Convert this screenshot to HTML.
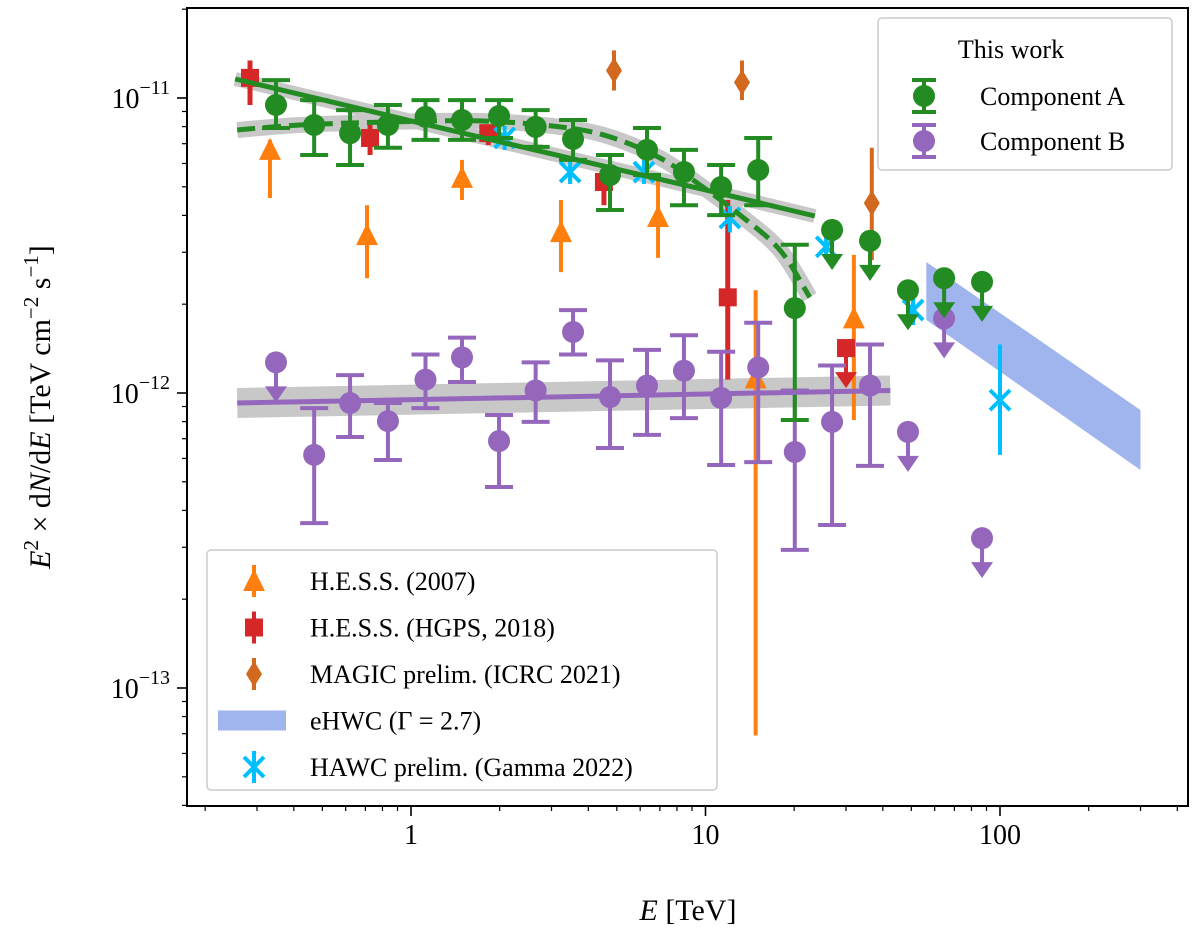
<!DOCTYPE html>
<html><head><meta charset="utf-8"><style>
html,body{margin:0;padding:0;background:#fff;}
svg{display:block;font-family:"Liberation Serif","DejaVu Serif",serif;}
</style></head><body>
<svg id="chart" width="1200" height="931" viewBox="0 0 1200 931" xmlns="http://www.w3.org/2000/svg">
<g id="bands"></g><g id="marks"></g><g id="fits"></g><g id="axes"></g><g id="legends"></g>
</svg>
<script>
// ---- data (E in TeV, flux in 1e-12 TeV cm^-2 s^-1) ----
const aE=[0.348,0.469,0.621,0.835,1.12,1.49,1.99,2.65,3.55,4.74,6.33,8.45,11.3,15.1,20.1];
const aF=[9.47,8.10,7.60,8.10,8.63,8.42,8.69,7.98,7.26,5.48,6.67,5.61,4.99,5.70,1.94];
const aHi=[11.5,9.84,9.10,9.47,9.84,9.84,9.84,9.10,8.42,6.41,7.91,6.67,5.93,7.32,3.18];
const aLo=[7.91,6.41,5.93,6.78,7.21,7.21,7.32,6.83,6.17,4.17,5.48,4.33,4.01,4.33,0.81];
const aUlE=[26.9,36.2,48.7,64.6,86.9];
const aUlF=[3.57,3.28,2.23,2.45,2.38];
const bE=[0.469,0.621,0.835,1.12,1.49,1.99,2.65,3.55,4.74,6.33,8.45,11.3,15.1,20.1,26.9,36.2];
const bF=[0.617,0.925,0.803,1.11,1.32,0.687,1.02,1.61,0.969,1.06,1.19,0.962,1.22,0.631,0.798,1.06];
const bHi=[0.889,1.15,0.925,1.35,1.54,0.842,1.27,1.91,1.29,1.40,1.57,1.38,1.73,1.02,1.24,1.46];
const bLo=[0.362,0.709,0.593,0.889,1.09,0.480,0.798,1.35,0.651,0.721,0.822,0.570,0.583,0.294,0.357,0.566];
const bUlE=[0.348,48.7,64.6,86.9];
const bUlF=[1.27,0.738,1.79,0.322];
const hessE=[0.332,0.709,1.49,3.23,6.90,14.8,31.9];
const hessF=[6.67,3.43,5.36,3.51,3.95,1.12,1.79];
const hessHi=[7.21,4.33,6.17,4.51,5.28,2.23,2.94];
const hessLo=[4.58,2.45,4.51,2.57,2.87,0.069,0.81];
const hgpsE=[0.284,0.726,1.83,4.52,11.9];
const hgpsF=[11.7,7.32,7.60,5.19,2.11];
const hgpsHi=[13.4,8.10,8.10,5.93,4.51];
const hgpsLo=[9.47,6.41,6.93,4.33,1.11];
const hgpsUlE=[30.0];
const hgpsUlF=[1.42];
const magicE=[4.89,13.3,36.7];
const magicF=[12.4,11.3,4.40];
const magicHi=[14.5,13.4,6.78];
const magicLo=[10.6,9.84,2.82];
const hawcE=[2.08,3.47,6.18,12.1,25.7,50.7,100];
const hawcF=[7.32,5.61,5.61,3.92,3.13,1.91,0.946];
const hawcHi=[7.6,6.0,6.0,4.3,3.4,2.1,1.46];
const hawcLo=[7.0,5.2,5.2,3.5,2.9,1.7,0.617];
const ehwcE=[56.2,300];
const ehwcTop=[2.78,0.875];
const ehwcBot=[1.77,0.548];
const fitSolidE=[0.253,1,10,23.5];
const fitSolidF=[11.6,8.36,4.88,3.98];
const fitDashE=[0.257,0.420,0.829,1.71,3.21,4.74,7.01,9.58,13.1,17.9,22.6];
const fitDashF=[7.79,8.10,8.29,8.36,7.98,7.38,6.26,5.07,4.01,3.05,2.11];
const fitBE=[0.257,42.4];
const fitBF=[0.925,1.02];
const xTickVals=[1,10,100];
const xTickLabels=["1","10","100"];
const yTickExp=[-11,-12,-13];

// ---- axes ----
const L=187,R=1188,T=8,B=806;
const X=e=>411+294.5*Math.log10(e);
const Y=f=>98+295*(1-Math.log10(f));
const NS="http://www.w3.org/2000/svg";
function mk(tag,attrs,parent){const el=document.createElementNS(NS,tag);for(const k in attrs)el.setAttribute(k,attrs[k]);parent.appendChild(el);return el;}
const gB=document.getElementById('bands'),gF=document.getElementById('fits'),gM=document.getElementById('marks'),gA=document.getElementById('axes'),gL=document.getElementById('legends');

function pathOf(Es,Fs){
  const P=Es.map((e,i)=>[X(e),Y(Fs[i])]);
  if(P.length<3)return P.map((q,i)=>(i?'L':'M')+q[0].toFixed(1)+','+q[1].toFixed(1)).join(' ');
  let d='M'+P[0][0].toFixed(1)+','+P[0][1].toFixed(1);
  for(let i=0;i<P.length-1;i++){
    const p0=P[i-1]||P[i],p1=P[i],p2=P[i+1],p3=P[i+2]||p2;
    const c1=[p1[0]+(p2[0]-p0[0])/6,p1[1]+(p2[1]-p0[1])/6];
    const c2=[p2[0]-(p3[0]-p1[0])/6,p2[1]-(p3[1]-p1[1])/6];
    d+=` C${c1[0].toFixed(1)},${c1[1].toFixed(1)} ${c2[0].toFixed(1)},${c2[1].toFixed(1)} ${p2[0].toFixed(1)},${p2[1].toFixed(1)}`;
  }
  return d;
}

// bands
let p=mk('path',{d:pathOf(fitSolidE,fitSolidF),stroke:'#c8c8c8','stroke-width':14,fill:'none'},gB);

p=mk('path',{d:pathOf(fitDashE,fitDashF),stroke:'#c8c8c8','stroke-width':16,fill:'none'},gB);

p=mk('path',{d:pathOf(fitBE,fitBF),stroke:'#c8c8c8','stroke-width':30,fill:'none'},gB);

p=mk('polygon',{points:[[X(ehwcE[0]),Y(ehwcTop[0])],[X(ehwcE[1]),Y(ehwcTop[1])],[X(ehwcE[1]),Y(ehwcBot[1])],[X(ehwcE[0]),Y(ehwcBot[0])]].map(q=>q.join(',')).join(' '),fill:'#a0b4ee'},gB);


// marker helpers
function marker(type,x,y,c,g){
  if(type==='o')return mk('circle',{cx:x,cy:y,r:11,fill:c},g);
  if(type==='^')return mk('polygon',{points:`${x},${y-12} ${x+11},${y+10} ${x-11},${y+10}`,fill:c},g);
  if(type==='s')return mk('rect',{x:x-9,y:y-9,width:18,height:18,fill:c},g);
  if(type==='d')return mk('polygon',{points:`${x},${y-13} ${x+8},${y} ${x},${y+13} ${x-8},${y}`,fill:c},g);
  if(type==='x'){const gg=mk('g',{stroke:c,'stroke-width':4},g);mk('line',{x1:x-10,y1:y-10,x2:x+10,y2:y+10},gg);mk('line',{x1:x-10,y1:y+10,x2:x+10,y2:y-10},gg);mk('line',{x1:x,y1:y-12,x2:x,y2:y+12},gg);return gg;}
}
function series(name,Es,Fs,His,Los,type,c,cap,sw){
  const g=mk('g',{},gM);
  
  
  Es.forEach((e,i)=>{
    const x=X(e),y=Y(Fs[i]),y1=Y(His[i]),y2=Y(Los[i]);
    mk('line',{x1:x,y1:y1,x2:x,y2:y2,stroke:c,'stroke-width':sw},g);
    if(cap){mk('line',{x1:x-14,y1:y1,x2:x+14,y2:y1,stroke:c,'stroke-width':sw},g);mk('line',{x1:x-14,y1:y2,x2:x+14,y2:y2,stroke:c,'stroke-width':sw},g);}
    const m=marker(type,x,y,c,g);
    
    
  });
}
function uls(name,Es,Fs,type,c){
  const g=mk('g',{},gM);
  
  
  Es.forEach((e,i)=>{
    const x=X(e),y=Y(Fs[i]);
    mk('line',{x1:x,y1:y,x2:x,y2:y+30,stroke:c,'stroke-width':4},g);
    mk('polygon',{points:`${x-11},${y+24} ${x+11},${y+24} ${x},${y+40}`,fill:c},g);
    const m=marker(type,x,y,c,g);
    
    
  });
}
series('hess-2007',hessE,hessF,hessHi,hessLo,'^','#ff7f0e',false,4);
series('hess-hgps-2018',hgpsE,hgpsF,hgpsHi,hgpsLo,'s','#d62728',false,5);
uls('hess-hgps-ul',hgpsUlE,hgpsUlF,'s','#d62728');
series('magic-prelim',magicE,magicF,magicHi,magicLo,'d','#d2691e',false,4);
series('hawc-prelim',hawcE,hawcF,hawcHi,hawcLo,'x','#00bfff',false,4);
series('component-b',bE,bF,bHi,bLo,'o','#9467bd',true,4);
uls('component-b-ul',bUlE,bUlF,'o','#9467bd');
series('component-a',aE,aF,aHi,aLo,'o','#228b22',true,4);
uls('component-a-ul',aUlE,aUlF,'o','#228b22');

// fit lines
p=mk('path',{d:pathOf(fitSolidE,fitSolidF),stroke:'#228b22','stroke-width':5,fill:'none'},gF);

p=mk('path',{d:pathOf(fitDashE,fitDashF),stroke:'#228b22','stroke-width':5,fill:'none','stroke-dasharray':'18,8'},gF);

p=mk('path',{d:pathOf(fitBE,fitBF),stroke:'#9467bd','stroke-width':5,fill:'none'},gF);


// axes frame
p=mk('rect',{x:L,y:T,width:R-L,height:B-T,fill:'none',stroke:'#000','stroke-width':2},gA);

for(let d=-1;d<=2;d++)for(let k=1;k<=9;k++){const v=k*Math.pow(10,d);const x=X(v);if(x<L||x>R)continue;
  const major=k===1;mk('line',{x1:x,y1:B,x2:x,y2:B+(major?10:5),stroke:'#000','stroke-width':major?1.6:1.2},gA);}
xTickVals.forEach((v,i)=>{const t=mk('text',{x:X(v),y:B+38,'font-size':28,'text-anchor':'middle'},gA);t.textContent=xTickLabels[i];
  });
for(let d=-2;d<=1;d++)for(let k=1;k<=9;k++){const v=k*Math.pow(10,d);const y=Y(v);if(y<T||y>B)continue;
  const major=k===1;mk('line',{x1:L,y1:y,x2:L-(major?10:5),y2:y,stroke:'#000','stroke-width':major?1.6:1.2},gA);}
yTickExp.forEach(ex=>{const y=Y(Math.pow(10,ex+12));const t=mk('text',{x:170,y:y+10,'font-size':28,'text-anchor':'end'},gA);
  
  t.innerHTML='10<tspan dy="-14" font-size="20">−'+(-ex)+'</tspan>';});
let t=mk('text',{x:688,y:920,'font-size':30,'text-anchor':'middle'},gA);

t.innerHTML='<tspan font-style="italic">E</tspan> [TeV]';
t=mk('text',{x:0,y:0,'font-size':30,'text-anchor':'middle',transform:'translate(50,407) rotate(-90)'},gA);

t.innerHTML='<tspan font-style="italic">E</tspan><tspan dy="-12" font-size="21">2</tspan><tspan dy="12"> × d</tspan><tspan font-style="italic">N</tspan>/d<tspan font-style="italic">E</tspan> [TeV cm<tspan dy="-12" font-size="21">−2</tspan><tspan dy="12"> s</tspan><tspan dy="-12" font-size="21">−1</tspan><tspan dy="12">]</tspan>';

// legends
function legBox(name,x,y,w,h){const r=mk('rect',{x,y,width:w,height:h,rx:4,fill:'#fff','fill-opacity':0.8,stroke:'#ccc','stroke-width':1.5},gL);
  }
function legText(name,x,y,s){const tt=mk('text',{x,y,'font-size':26},gL);tt.textContent=s;
  return tt;}
legBox('legend-this-work',878,18,294,152);
t=legText('legend-title',1011,58,'This work');t.setAttribute('text-anchor','middle');
[['Component A','#228b22',96],['Component B','#9467bd',141]].forEach(([s,c,y])=>{
  const g=mk('g',{},gL);
  mk('line',{x1:924,y1:y-16,x2:924,y2:y+16,stroke:c,'stroke-width':4},g);
  mk('line',{x1:912,y1:y-16,x2:936,y2:y-16,stroke:c,'stroke-width':4},g);
  mk('line',{x1:912,y1:y+16,x2:936,y2:y+16,stroke:c,'stroke-width':4},g);
  mk('circle',{cx:924,cy:y,r:11,fill:c},g);
  const tt=mk('text',{x:980,y:y+9,'font-size':26},g);tt.textContent=s;});
legBox('legend-references',207,550,510,240);
const legItems=[['H.E.S.S. (2007)','^','#ff7f0e'],['H.E.S.S. (HGPS, 2018)','s','#d62728'],['MAGIC prelim. (ICRC 2021)','d','#d2691e'],['eHWC (Γ = 2.7)','band','#a0b4ee'],['HAWC prelim. (Gamma 2022)','x','#00bfff']];
legItems.forEach(([s,type,c],i)=>{const y=581+i*46.5;
  const g=mk('g',{},gL);
  if(type==='band')mk('rect',{x:218,y:y-10,width:68,height:20,fill:c},g);
  else{mk('line',{x1:254,y1:y-16,x2:254,y2:y+16,stroke:c,'stroke-width':4},g);marker(type,254,y,c,g);}
  const tt=mk('text',{x:310,y:y+9,'font-size':26},g);tt.textContent=s;});
</script>
</body></html>
